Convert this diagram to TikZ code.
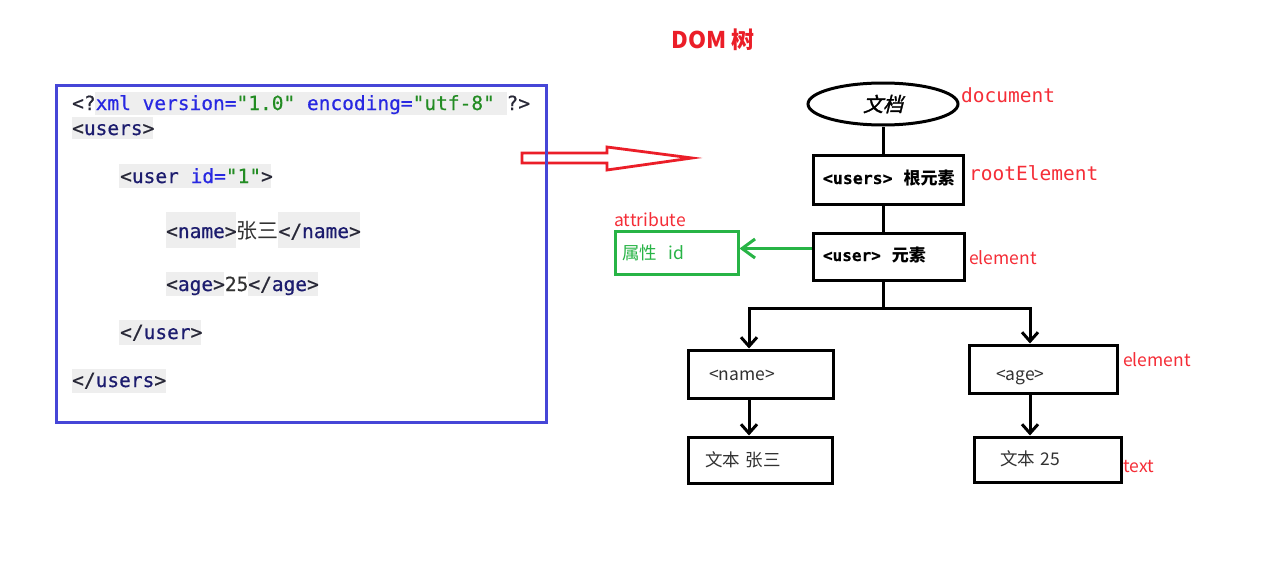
\documentclass[tikz,border=0pt]{standalone}
\usepackage{fontspec}
\usetikzlibrary{arrows.meta,shapes.geometric}
\setmainfont{Noto Sans CJK SC}
\newfontfamily\cjk{Noto Sans CJK SC}
\newfontfamily\cjkslant[FakeSlant=0.25,FakeBold=1.5]{Noto Sans CJK SC}
\newfontfamily\mono[FakeBold=0.6]{DejaVu Sans Mono}
\newfontfamily\monolight{DejaVu Sans Mono}
\definecolor{codebg}{RGB}{238,238,238}
\definecolor{tagc}{RGB}{28,28,110}
\definecolor{brc}{RGB}{40,40,55}
\definecolor{attc}{RGB}{40,40,225}
\definecolor{valc}{RGB}{35,140,35}
\definecolor{txtc}{RGB}{50,50,50}
\definecolor{lblred}{RGB}{245,45,55}
\definecolor{boxblue}{RGB}{70,70,215}
\definecolor{attrgreen}{RGB}{40,180,70}
\definecolor{arrred}{RGB}{235,30,40}
\newcommand{\codefont}{\mono\fontsize{19.5}{22}\selectfont}
\newcommand{\br}[1]{\textcolor{brc}{#1}}
\newcommand{\tg}[1]{\textcolor{tagc}{#1}}
\newcommand{\at}[1]{\textcolor{attc}{#1}}
\newcommand{\vl}[1]{\textcolor{valc}{#1}}
\begin{document}
\begin{tikzpicture}[x=1pt,y=-1pt,
  codeline/.style={anchor=base west,inner sep=0pt,font=\codefont},
  treebox/.style={draw=black,line width=3pt,rectangle,inner ysep=0pt,align=left,text=txtc,
    text height=13pt,text depth=0pt},
  lbl/.style={text=lblred,inner sep=0pt,anchor=west,font=\cjk\fontsize{17.5}{20}\selectfont},
  monolbl/.style={text=lblred,inner sep=0pt,anchor=west,font=\monolight\fontsize{19.5}{22}\selectfont},
  tline/.style={draw=black,line width=3pt},
  tarrow/.style={tline,-{Straight Barb[length=9pt,width=16pt,line width=3pt]}},
  garrow/.style={draw=attrgreen,line width=3pt,-{Straight Barb[length=13pt,width=19pt,line width=3pt]}}
]
\useasboundingbox (0,0) rectangle (1271,586);
\fill[white] (0,0) rectangle (1271,586);

% title
\node[inner sep=0pt,text=arrred,font=\cjk\bfseries\fontsize{23}{26}\selectfont] (title) at (713,40) {DOM 树};

% code highlight backgrounds
\fill[codebg] (95,92) rectangle (507,115);
\fill[codebg] (72,117) rectangle (153,139);
\fill[codebg] (119,164) rectangle (271,188);
\fill[codebg] (166,212) rectangle (236,248);
\fill[codebg] (278,212) rectangle (360,248);
\fill[codebg] (166,272) rectangle (224,296);
\fill[codebg] (248,272) rectangle (318,296);
\fill[codebg] (119,320) rectangle (201,345);
\fill[codebg] (72,369) rectangle (166,393);

% code text
\node[codeline] (l1) at (72,110) {\br{<?}\at{xml version=}\vl{"1.0"} \at{encoding=}\vl{"utf-8"} \br{?>}};
\node[codeline] (l2) at (72,135) {\br{<}\tg{users}\br{>}};
\node[codeline] (l3) at (120,183) {\br{<}\tg{user} \at{id=}\vl{"1"}\br{>}};
\node[codeline] (l4) at (166,238) {\br{<}\tg{name}\br{>}{\cjk\fontsize{21}{22}\selectfont\textcolor{txtc}{张三}}\br{</}\tg{name}\br{>}};
\node[codeline] (l5) at (166,291) {\br{<}\tg{age}\br{>}\textcolor{txtc}{25}\br{</}\tg{age}\br{>}};
\node[codeline] (l6) at (120,339) {\br{</}\tg{user}\br{>}};
\node[codeline] (l7) at (72,387) {\br{</}\tg{users}\br{>}};

% red block arrow
\draw[draw=arrred,line width=2.8pt,line join=miter,fill=white]
  (522,153) -- (607,153) -- (607,147) -- (692,158) -- (607,170) -- (607,163) -- (522,163) -- cycle;

% blue code frame
\draw[draw=boxblue,line width=3pt] (56,85) rectangle (546,422);

% tree nodes
\node[draw=black,line width=3pt,ellipse,minimum width=150pt,minimum height=42pt,inner sep=0pt,
  font=\cjkslant\fontsize{20}{22}\selectfont] (doc) at (883,104) {文档};
\node[treebox,minimum height=49pt,text width=130pt,inner xsep=10pt,text=black,text depth=4pt] (root) at (888,179.5)
  {\mbox{{\mono\bfseries\fontsize{16.5}{18}\selectfont <users>}\hspace{11pt}{\cjk\bfseries\fontsize{17}{20}\selectfont 根元素}}};
\node[treebox,minimum height=47pt,text width=131pt,inner xsep=10pt,text=black,text depth=4pt] (user) at (888.5,256.5)
  {\mbox{{\mono\bfseries\fontsize{16}{18}\selectfont <user>}\hspace{11pt}{\cjk\bfseries\fontsize{17}{20}\selectfont 元素}}};
\node[draw=attrgreen,line width=3pt,rectangle,minimum height=43pt,text width=109pt,inner xsep=7pt,inner ysep=0pt,
  align=left,text=attrgreen,font=\cjk\fontsize{17.5}{20}\selectfont] (attr) at (676.5,252.5) {属性\ \ id};
\node[treebox,minimum height=48pt,text width=103pt,inner xsep=21pt,font=\cjk\fontsize{17.5}{20}\selectfont] (name) at (760.5,374) {<name>};
\node[treebox,minimum height=48pt,text width=94pt,inner xsep=27pt,font=\cjk\fontsize{17.5}{20}\selectfont] (age) at (1043,369) {\raisebox{-5pt}{<age>}};
\node[treebox,minimum height=46pt,text width=110pt,inner xsep=17pt,font=\cjk\fontsize{17.5}{20}\selectfont] (t1) at (760,460) {文本 张三};
\node[treebox,minimum height=45pt,text width=95pt,inner xsep=26pt,text depth=1pt,font=\cjk\fontsize{17.5}{20}\selectfont] (t2) at (1047.5,459.5) {文本 25};

% red labels
\node[monolbl] (ldoc) at (961,95) {document};
\node[monolbl] (lroot) at (969,173) {rootElement};
\node[lbl] (lel1) at (969,258) {element};
\node[lbl] (lattr) at (614,220) {attribute};
\node[lbl] (lel2) at (1123,360) {element};
\node[lbl] (ltext) at (1123,467) {text};

% connectors
\coordinate (jc) at (883,308);
\coordinate (jl) at (749,308);
\coordinate (jr) at (1030,308);
\draw[tline] (doc.south) -- (doc.south |- root.north);
\draw[tline] (doc.south |- root.south) -- (doc.south |- user.north);
\draw[tline] (doc.south |- user.south) -- (jc);
\draw[tarrow] (jc) -- (jl) -- (jl |- name.north);
\draw[tarrow] (jc) -- (jr) -- (jr |- age.north);
\draw[tarrow] (jl |- name.south) -- (jl |- t1.north);
\draw[tarrow] (jr |- age.south) -- (jr |- t2.north);
\draw[garrow] ([yshift=8pt]user.west) -- ([yshift=8pt]user.west -| attr.east);
\end{tikzpicture}
\end{document}
